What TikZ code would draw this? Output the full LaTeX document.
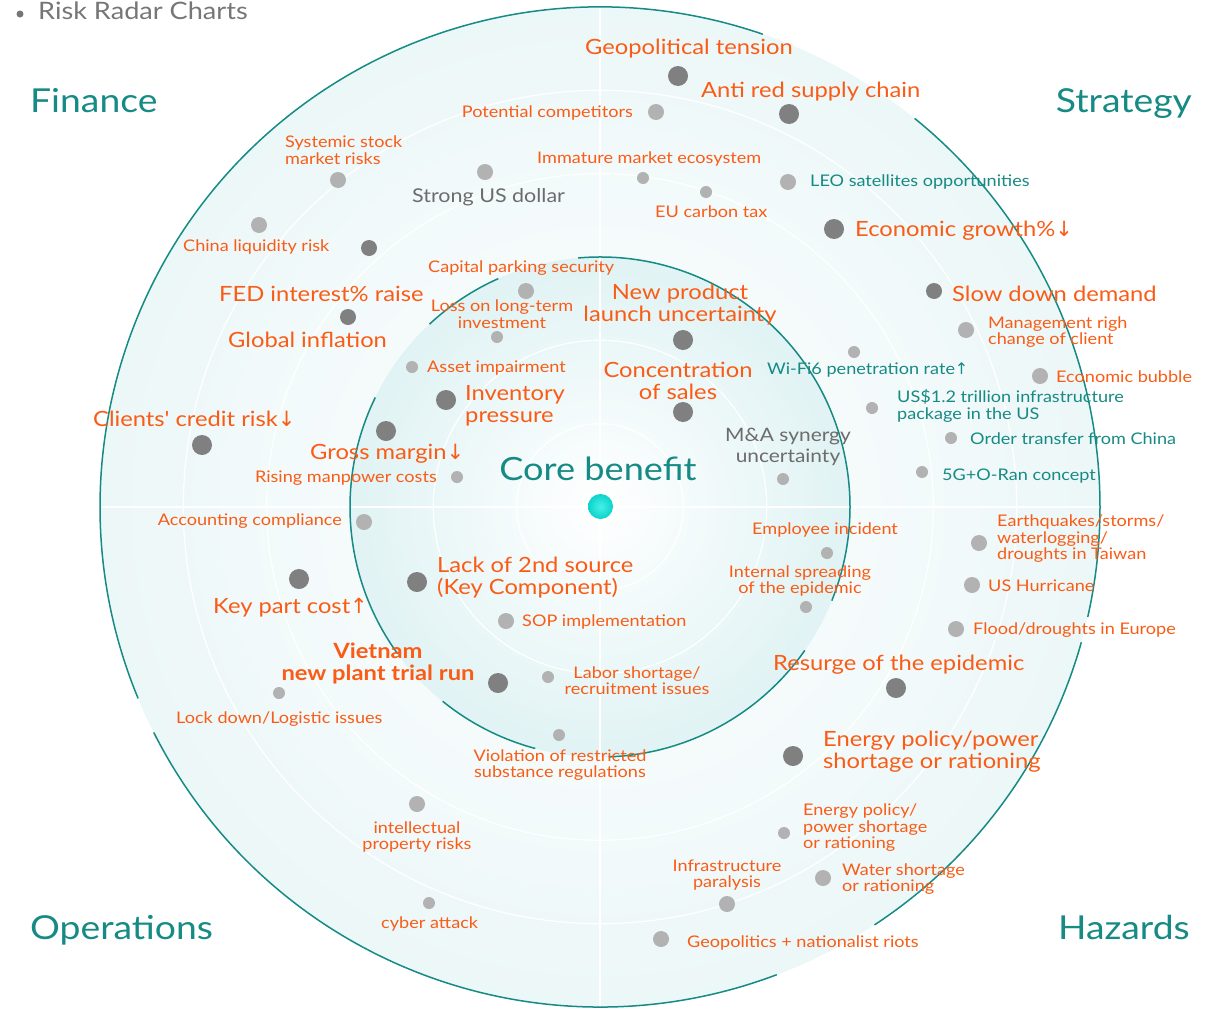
\documentclass[tikz,border=0pt]{standalone}
\usepackage{fontspec}
\setmainfont{Lato}[FakeStretch=1.13]
\newfontfamily\latoraw{Lato}[FakeStretch=1.13]
\newfontfamily\arr{DejaVu Sans}
\definecolor{tealc}{RGB}{22,138,132}
\definecolor{orangec}{RGB}{250,92,22}
\definecolor{grayt}{RGB}{108,108,108}
\definecolor{titleg}{RGB}{118,118,118}
\definecolor{dotdark}{RGB}{128,128,128}
\definecolor{dotlight}{RGB}{178,178,178}
\definecolor{ringA}{RGB}{236,247,248}
\definecolor{ringB}{RGB}{212,238,240}
\definecolor{coreA}{RGB}{230,245,246}
\definecolor{coreB}{RGB}{196,231,233}
\definecolor{coreHi}{RGB}{70,240,232}
\definecolor{coreMid}{RGB}{0,205,198}
\definecolor{coreLo}{RGB}{0,168,162}
\pgfdeclareradialshading{outershade}{\pgfpoint{0bp}{0bp}}{color(0bp)=(white);color(25bp)=(ringA);color(50bp)=(ringB)}
\pgfdeclareradialshading{innershade}{\pgfpoint{0bp}{0bp}}{color(0bp)=(white);color(20bp)=(coreA);color(50bp)=(coreB)}
\pgfdeclareradialshading{coreshade}{\pgfpoint{0bp}{0bp}}{color(0bp)=(coreHi);color(30bp)=(coreMid);color(50bp)=(coreLo)}
\tikzset{
  lbs/.style={text=orangec, font=\fontsize{16}{16.5}\selectfont, inner sep=0pt, align=left, yshift=-1pt},
  lbl/.style={text=orangec, font=\fontsize{21}{22}\selectfont, inner sep=0pt, align=left, yshift=-1.5pt},
  lblb/.style={text=orangec, font=\fontsize{21}{22}\selectfont\bfseries, inner sep=0pt, align=center, yshift=-1.5pt},
  tls/.style={text=tealc, font=\fontsize{16}{16.5}\selectfont, inner sep=0pt, align=left, yshift=-1pt},
  gyt/.style={text=grayt, font=\fontsize{19}{20}\selectfont, inner sep=0pt, align=center, yshift=-1pt},
  gyt2/.style={text=grayt, font=\fontsize{18.5}{21}\selectfont, inner sep=0pt, align=center, yshift=-1pt},
  cat/.style={text=tealc, font=\fontsize{33}{36}\selectfont, inner sep=0pt},
  corelbl/.style={text=tealc, font=\fontsize{32}{34}\selectfont, inner sep=0pt, yshift=-1pt},
  dk/.style={circle, fill=dotdark, inner sep=0pt, minimum size=20pt},
  dks/.style={circle, fill=dotdark, inner sep=0pt, minimum size=16pt},
  lt/.style={circle, fill=dotlight, inner sep=0pt, minimum size=16pt},
  lts/.style={circle, fill=dotlight, inner sep=0pt, minimum size=12pt},
  coredot/.style={circle, inner sep=0pt, minimum size=25pt, shading=coreshade},
  ringline/.style={white, line width=1.2pt},
  rim/.style={tealc, line width=1.5pt},
}
\begin{document}
\begin{tikzpicture}[x=1pt,y=-1pt]
\useasboundingbox (0,0) rectangle (1220,1009);
% disks
\shade[shading=outershade] (600,507) circle[radius=500];
\draw[ringline] (600,507) circle[radius=416.7];
\draw[ringline] (600,507) circle[radius=333.3];
\shade[shading=innershade] (600,507) circle[radius=250];
\draw[ringline] (600,507) circle[radius=166.7];
\draw[ringline] (600,507) circle[radius=83.3];
% axes
\draw[ringline] (100,507) -- (1100,507);
\draw[ringline] (600,7) -- (600,1007);
% outer rim segments (visual angles negated)
\draw[rim] (600,507) ++(-71:500) arc[start angle=-71, end angle=-202.5, radius=500];
\draw[rim] (600,507) ++(-206.8:500) arc[start angle=-206.8, end angle=-290.7, radius=500];
\draw[rim] (600,507) ++(-303.3:500) arc[start angle=-303.3, end angle=-344.3, radius=500];
\draw[rim] (600,507) ++(12.7:500) arc[start angle=12.7, end angle=-51, radius=500];
% inner rim segments
\draw[rim] (600,507) ++(-95:250) arc[start angle=-95, end angle=22, radius=250];
\draw[rim] (600,507) ++(35:250) arc[start angle=35, end angle=88, radius=250];
\draw[rim] (600,507) ++(105:250) arc[start angle=105, end angle=129, radius=250];
\draw[rim] (600,507) ++(-154:250) arc[start angle=-154, end angle=-216, radius=250];
\draw[rim] (600,507) ++(-114:250) arc[start angle=-114, end angle=-133, radius=250];
% title
\fill[titleg] (20,14) circle[radius=3.5];
\node[text=titleg, font=\fontsize{24}{26}\selectfont, inner sep=0pt, anchor=base west] (title) at (38,19) {Risk Radar Charts};
% categories
\node[cat, anchor=base west] (cFin) at (30,112) {Finance};
\node[cat, anchor=base east] (cStr) at (1192,112) {Strategy};
\node[cat, anchor=base west] (cOps) at (30,939) {Operations};
\node[cat, anchor=base east] (cHaz) at (1190,939) {Hazards};
% strategy top
\node[lbl, anchor=west] (tGeo) at (585,47) {Geopolitical tension};
\node[dk] (dGeo) at (678,76) {};
\node[lbl, anchor=west] (tAnti) at (701,90) {Anti red supply chain};
\node[dk] (dAnti) at (789,114) {};
\node[lbs, anchor=east] (tPot) at (633,112) {Potential competitors};
\node[lt] (dPot) at (656,112) {};
\node[lbs, anchor=west] (tImm) at (537,158) {Immature market ecosystem};
\node[lts] (dImm) at (643,178) {};
\node[lts] (dEU) at (706,192) {};
\node[lbs, anchor=west] (tEU) at (655,211) {EU carbon tax};
\node[lt] (dLEO) at (788,182) {};
\node[tls, anchor=west] (tLEO) at (810,181) {LEO satellites opportunities};
\node[dk] (dEco) at (834,229) {};
\node[lbl, anchor=west] (tEco) at (855,229) {Economic growth\%{\arr ↓}};
% finance top
\node[lt] (dUSD) at (485,172) {};
\node[gyt, anchor=west] (tUSD) at (412,196) {Strong US dollar};
\node[lbs, anchor=west] (tSys) at (285,149) {Systemic stock\\market risks};
\node[lt] (dSys) at (338,180) {};
\node[lt] (dChi) at (259,225) {};
\node[lbs, anchor=west] (tChi) at (183,246) {China liquidity risk};
\node[dks] (dFed) at (369,248) {};
\node[lbl, anchor=west] (tFed) at (219,292) {FED interest\% raise};
\node[dks] (dGlo) at (348,317) {};
\node[lbl, anchor=west] (tGlo) at (228,338) {Global inflation};
\node[lbs, anchor=west] (tCap) at (428,267) {Capital parking security};
\node[lt] (dCap) at (526,291) {};
\node[lbs, align=center] (tLoss) at (502,313) {Loss on long-term\\investment};
\node[lts] (dLoss) at (497,337) {};
\node[lbl, align=center] (tNew) at (680,303.5) {New product\\launch uncertainty};
\node[dk] (dNew) at (683,340) {};
\node[lts] (dAss) at (412,367) {};
\node[lbs, anchor=west] (tAss) at (427,367) {Asset impairment};
\node[dk] (dInv) at (446,400) {};
\node[lbl, anchor=west] (tInv) at (465,404.5) {Inventory\\pressure};
\node[lbl, align=center] (tCon) at (678,379) {Concentration\\of sales};
\node[dk] (dCon) at (683,412) {};
% strategy right
\node[tls, anchor=west] (tWifi) at (767,369) {Wi-Fi6 penetration rate{\arr ↑}};
\node[lts] (dWifi) at (854,352) {};
\node[dks] (dSlow) at (934,291) {};
\node[lbl, anchor=west] (tSlow) at (952,292) {Slow down demand};
\node[lt] (dMan) at (966,330) {};
\node[lbs, anchor=west] (tMan) at (988,331) {Management righ\\change of client};
\node[lt] (dBub) at (1040,376) {};
\node[lbs, anchor=west] (tBub) at (1056,376) {Economic bubble};
\node[lts] (dUS12) at (872,408) {};
\node[tls, anchor=west] (tUS12) at (897,405) {US\$1.2 trillion infrastructure\\package in the US};
\node[lts] (dOrd) at (951,438) {};
\node[tls, anchor=west] (tOrd) at (970,438) {Order transfer from China};
\node[lts] (d5G) at (922,472) {};
\node[tls, anchor=west] (t5G) at (942,475) {5G+O-Ran concept};
\node[gyt2] (tMA) at (788,446) {M\&A synergy\\uncertainty};
\node[lts] (dMA) at (783,479) {};
% finance lower
\node[lbl, anchor=west] (tCli) at (93,417) {Clients{\latoraw '} credit risk{\arr ↓}};
\node[dk] (dCli) at (202,445) {};
\node[dk] (dGro) at (386,431) {};
\node[lbl, anchor=west] (tGro) at (310,452) {Gross margin{\arr ↓}};
\node[lbs, anchor=east] (tRis) at (437,477) {Rising manpower costs};
\node[lts] (dRis) at (457,477) {};
% core
\node[corelbl] (tCore) at (598,468) {Core benefit};
\node[coredot] (dCore) at (600.5,506.5) {};
% operations
\node[lbs, anchor=east] (tAcc) at (342,520) {Accounting compliance};
\node[lt] (dAcc) at (364,522) {};
\node[dk] (dKey) at (299,579) {};
\node[lbl, anchor=west] (tKey) at (213,606) {Key part cost{\arr ↑}};
\node[dk] (dLack) at (417,582) {};
\node[lbl, anchor=west] (tLack) at (437,576) {Lack of 2nd source\\(Key Component)};
\node[lt] (dSOP) at (506,621) {};
\node[lbs, anchor=west] (tSOP) at (522,621) {SOP implementation};
\node[lblb] (tViet) at (378,662) {Vietnam\\new plant trial run};
\node[dk] (dViet) at (498,683) {};
\node[lts] (dLab) at (548,677) {};
\node[lbs, align=center] (tLab) at (637,679.5) {Labor shortage/\\recruitment issues};
\node[lts] (dLock) at (279,693) {};
\node[lbs, anchor=west] (tLock) at (176,718) {Lock down/Logistic issues};
\node[lts] (dVio) at (559,735) {};
\node[lbs, align=center] (tVio) at (560,764) {Violation of restricted\\substance regulations};
\node[lt] (dIP) at (417,804) {};
\node[lbs, align=center] (tIP) at (417,836) {intellectual\\property risks};
\node[lts] (dCyb) at (429,903) {};
\node[lbs, anchor=west] (tCyb) at (381,923) {cyber attack};
% hazards
\node[lbs, anchor=west] (tEmp) at (752,529) {Employee incident};
\node[lts] (dEmp) at (827,553) {};
\node[lbs, align=center] (tInt) at (800,580) {Internal spreading\\of the epidemic};
\node[lts] (dInt) at (806,607) {};
\node[lt] (dEar) at (979,543) {};
\node[lbs, anchor=west] (tEar) at (997,538) {Earthquakes/storms/\\waterlogging/\\droughts in Taiwan};
\node[lt] (dHur) at (972,585) {};
\node[lbs, anchor=west] (tHur) at (988,585) {US Hurricane};
\node[lt] (dFlo) at (956,629) {};
\node[lbs, anchor=west] (tFlo) at (973,629) {Flood/droughts in Europe};
\node[lbl, anchor=west] (tRes) at (773,663) {Resurge of the epidemic};
\node[dk] (dRes) at (896,688) {};
\node[dk] (dEne) at (793,756) {};
\node[lbl, anchor=west] (tEne) at (823,750.5) {Energy policy/power\\shortage or rationing};
\node[lbs, anchor=west] (tEne2) at (803,827) {Energy policy/\\power shortage\\or rationing};
\node[lts] (dEne2) at (784,833) {};
\node[lt] (dWat) at (823,878) {};
\node[lbs, anchor=west] (tWat) at (842,878) {Water shortage\\or rationing};
\node[lbs, align=center] (tInf) at (727,874) {Infrastructure\\paralysis};
\node[lt] (dInf) at (727,904) {};
\node[lt] (dGeo2) at (661,939) {};
\node[lbs, anchor=west] (tGeo2) at (687,942) {Geopolitics + nationalist riots};
\end{tikzpicture}
\end{document}
